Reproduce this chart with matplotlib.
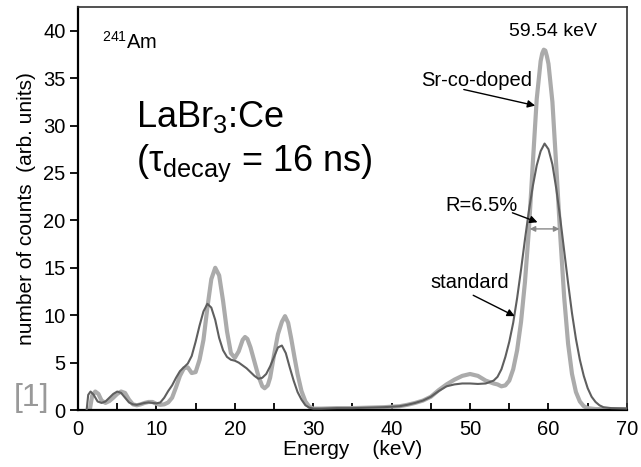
import matplotlib
matplotlib.use("Agg")
import matplotlib.pyplot as plt
from matplotlib.ticker import MultipleLocator

plt.rcParams["font.family"] = ["Liberation Sans", "DejaVu Sans"]
plt.rcParams["mathtext.fontset"] = "custom"
plt.rcParams["mathtext.rm"] = "Liberation Sans"
plt.rcParams["mathtext.it"] = "Liberation Sans:italic"

# standard LaBr3:Ce spectrum (energy keV, counts arb. units)
std_energy = [1.1, 1.3, 1.6, 2.0, 2.5, 3.0, 3.5, 4.0, 4.5, 5.0, 5.5, 6.0, 6.5, 7.0, 7.5,
              8.0, 8.5, 9.0, 9.5, 10.0, 10.5, 11.0, 11.5, 12.0, 12.5, 13.0, 13.5, 14.0,
              14.5, 15.0, 15.5, 16.0, 16.5, 17.0, 17.5, 18.0, 18.5, 19.0, 19.5, 20.0,
              20.5, 21.0, 21.5, 22.0, 22.5, 23.0, 23.5, 24.0, 24.5, 25.0, 25.5, 26.0,
              26.5, 27.0, 27.5, 28.0, 28.5, 29.0, 29.5, 30.0, 31.0, 33.0, 35.0, 37.0,
              39.0, 41.0, 42.0, 43.0, 44.0, 45.0, 46.0, 47.0, 48.0, 49.0, 50.0, 51.0,
              52.0, 53.0, 53.5, 54.0, 54.5, 55.0, 55.5, 56.0, 56.5, 57.0, 57.5, 58.0,
              58.5, 59.0, 59.5, 60.0, 60.5, 61.0, 61.5, 62.0, 62.5, 63.0, 63.5, 64.0,
              64.5, 65.0, 65.5, 66.0, 66.5, 67.0, 68.0, 70.0]
std_counts = [0.0, 1.6, 1.95, 1.6, 0.9, 0.75, 0.9, 1.3, 1.7, 1.95, 1.8, 1.3, 0.8, 0.6, 0.55,
              0.65, 0.75, 0.8, 0.75, 0.7, 0.8, 1.3, 2.0, 2.6, 3.4, 4.1, 4.5, 4.9,
              5.7, 7.2, 8.9, 10.4, 11.2, 10.8, 9.5, 7.6, 6.3, 5.6, 5.3, 5.2,
              5.0, 4.7, 4.4, 4.0, 3.6, 3.3, 3.4, 3.8, 4.6, 5.6, 6.6, 6.8,
              6.0, 4.5, 3.1, 1.9, 1.1, 0.5, 0.25, 0.15, 0.15, 0.2, 0.2, 0.25,
              0.3, 0.4, 0.55, 0.75, 1.0, 1.4, 2.0, 2.5, 2.7, 2.8, 2.8, 2.75,
              2.8, 3.1, 3.5, 4.3, 5.6, 7.2, 9.2, 11.8, 14.8, 18.0, 21.0, 23.6,
              25.8, 27.3, 28.1, 27.5, 25.9, 23.3, 20.2, 16.8, 13.4, 10.2, 7.5, 5.3,
              3.6, 2.3, 1.4, 0.85, 0.5, 0.3, 0.2, 0.15]

# Sr-co-doped LaBr3:Ce spectrum
sr_energy = [1.5, 1.8, 2.2, 2.6, 3.0, 3.5, 4.0, 4.5, 5.0, 5.5, 6.0, 6.5, 7.0, 7.5, 8.0,
             8.5, 9.0, 9.5, 10.0, 10.5, 11.0, 11.5, 12.0, 12.5, 13.0, 13.5, 14.0, 14.5,
             15.0, 15.5, 16.0, 16.5, 17.0, 17.5, 18.0, 18.5, 19.0, 19.5, 20.0, 20.5,
             21.0, 21.3, 21.6, 22.0, 22.5, 23.0, 23.5, 23.8, 24.2, 24.5, 25.0, 25.5,
             26.0, 26.4, 26.8, 27.2, 27.6, 28.0, 28.5, 29.0, 29.5, 30.0, 31.0, 33.0,
             35.0, 37.0, 39.0, 41.0, 42.0, 43.0, 44.0, 45.0, 46.0, 47.0, 48.0, 49.0,
             50.0, 51.0, 52.0, 53.0, 53.5, 54.0, 54.5, 55.0, 55.5, 56.0, 56.5, 57.0,
             57.5, 58.0, 58.5, 59.0, 59.2, 59.4, 59.6, 59.8, 60.0, 60.5, 61.0, 61.5,
             62.0, 62.5, 63.0, 63.5, 64.0, 64.5, 65.0, 66.0, 70.0]
sr_counts = [0.0, 1.5, 1.95, 1.7, 1.0, 0.75, 0.95, 1.3, 1.7, 1.95, 1.8, 1.1, 0.6, 0.5, 0.6,
             0.75, 0.85, 0.85, 0.65, 0.55, 0.6, 0.8, 1.3, 2.4, 3.6, 4.4, 4.5, 3.9,
             4.0, 5.3, 7.4, 10.8, 13.8, 15.0, 14.2, 11.5, 8.3, 6.0, 5.5, 6.2,
             7.4, 7.7, 7.5, 6.6, 5.1, 3.6, 2.5, 2.3, 2.6, 3.4, 5.8, 8.0,
             9.3, 9.9, 9.2, 7.5, 5.6, 3.8, 2.0, 0.9, 0.35, 0.15, 0.15, 0.2,
             0.2, 0.25, 0.3, 0.4, 0.55, 0.75, 1.0, 1.4, 2.1, 2.7, 3.2, 3.6,
             3.8, 3.6, 3.1, 2.8, 2.7, 2.5, 2.6, 3.1, 4.3, 6.3, 9.3, 13.5,
             19.0, 26.0, 32.8, 36.8, 37.6, 38.0, 37.9, 37.3, 36.5, 32.5, 25.6, 18.4,
             11.9, 7.0, 3.8, 1.9, 0.9, 0.4, 0.2, 0.1, 0.1]

x_ticks = [0, 10, 20, 30, 40, 50, 60, 70]
y_ticks = [0, 5, 10, 15, 20, 25, 30, 35, 40]

fig = plt.figure(figsize=(6.41, 4.67), dpi=100)
ax = fig.add_axes([0.1217, 0.122, 0.8563, 0.863])

ax.plot(std_energy, std_counts, color="#5f5f5f", lw=1.5, zorder=3,
        solid_joinstyle="round")
ax.plot(sr_energy, sr_counts, color="#ababab", lw=3.0, zorder=2,
        solid_joinstyle="round")

ax.set_xlim(0, 70)
ax.set_ylim(0, 42.5)
ax.set_xticks(x_ticks)
ax.xaxis.set_minor_locator(MultipleLocator(5))
ax.set_yticks(y_ticks)
ax.tick_params(axis="x", which="both", direction="in", length=5, width=1.3,
               labelsize=14.5, pad=7)
ax.tick_params(axis="y", direction="out", length=6, width=1.3, labelsize=14.5, pad=3)
for side in ["left", "bottom"]:
    ax.spines[side].set_linewidth(1.6)
for side in ["top", "right"]:
    ax.spines[side].set_linewidth(1.2)
    ax.spines[side].set_color("#333333")

ax.set_xlabel("Energy    (keV)", fontsize=15, labelpad=1)
ax.set_ylabel("number of counts  (arb. units)", fontsize=15, labelpad=5)

ax.text(3.0, 38.8, r"$^{\mathregular{241}}$Am", fontsize=14.5, ha="left", va="center")
ax.text(7.4, 30.9, r"LaBr$_{\mathregular{3}}$:Ce", fontsize=26, ha="left", va="center")
ax.text(7.4, 26.0, r"(τ$_{\mathregular{decay}}$ = 16 ns)", fontsize=26,
        ha="left", va="center")
ax.text(60.6, 39.9, "59.54 keV", fontsize=14, ha="center", va="center")

arrow = dict(arrowstyle="-|>", color="black", lw=1.0, mutation_scale=11,
             shrinkA=0, shrinkB=0)
ax.text(50.9, 34.8, "Sr-co-doped", fontsize=14.5, ha="center", va="center")
ax.annotate("", xy=(58.3, 32.1), xytext=(49.2, 33.8), arrowprops=arrow)
ax.text(51.5, 21.6, "R=6.5%", fontsize=14.5, ha="center", va="center")
ax.annotate("", xy=(58.6, 19.8), xytext=(55.4, 20.8), arrowprops=arrow)
ax.text(50.0, 13.4, "standard", fontsize=14.5, ha="center", va="center")
ax.annotate("", xy=(55.7, 9.9), xytext=(50.4, 12.1), arrowprops=arrow)

# FWHM marker
ax.annotate("", xy=(61.4, 19.1), xytext=(57.6, 19.1),
            arrowprops=dict(arrowstyle="<|-|>", color="#888888", lw=1.0,
                            mutation_scale=8, shrinkA=0, shrinkB=0))

fig.text(0.049, 0.147, "[1]", fontsize=23, color="#999999", ha="center", va="center")

fig.savefig("out.png", dpi=100)
